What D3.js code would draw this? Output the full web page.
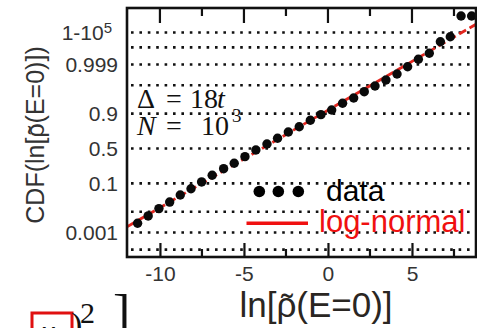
<!DOCTYPE html>
<html>
<head>
<meta charset="utf-8">
<script src="https://cdn.jsdelivr.net/npm/d3@7/dist/d3.min.js"></script>
<style>
  html, body { margin: 0; padding: 0; background: #fff; }
  svg { display: block; }
</style>
</head>
<body>
<svg id="chart" width="477" height="328"></svg>
<script>
// ln of the typical local density of states at the band centre
const lnRho = [-11.33, -10.70, -10.06, -9.42, -8.79, -8.15, -7.52, -6.89, -6.21, -5.58,
               -4.94, -4.29, -3.63, -3.00, -2.36, -1.71, -1.05, -0.42, 0.22, 0.87,
               1.53, 2.16, 2.80, 3.45, 4.11, 4.74, 5.38, 6.03, 6.69, 7.28, 7.92, 8.55];
// empirical cumulative distribution at each point
const cdf = [0.00298, 0.00657, 0.01355, 0.02442, 0.04363, 0.06944, 0.10935, 0.1623, 0.2287, 0.2932,
             0.3817, 0.4781, 0.5655, 0.6462, 0.7281, 0.7881, 0.8501, 0.8931, 0.9215, 0.9517,
             0.9683, 0.9816, 0.98922, 0.99410, 0.99692, 0.99868, 0.99948, 0.999767, 0.9999568, 0.9999802,
             0.99999944, 0.99999944];
// log-normal fit parameters (mean and width of ln rho)
const fitMu = -3.93;
const fitSigma = 2.79;

// probability gridlines and the ones that carry labels
const gridProbs = [1 - 1e-5, 0.9999, 0.999, 0.99, 0.9, 0.5, 0.1, 0.01, 0.001, 0.0001];
const labelProbs = [1 - 1e-5, 0.999, 0.9, 0.5, 0.1, 0.001];
const xMajorTicks = [-10, -5, 0, 5];
const xMinorTicks = [-7.5, -2.5, 2.5, 7.5];

// inverse of the standard normal CDF (Acklam's rational approximation)
function probit(p) {
  const a = [-3.969683028665376e+01, 2.209460984245205e+02, -2.759285104469687e+02,
             1.383577518672690e+02, -3.066479806614716e+01, 2.506628277459239e+00];
  const b = [-5.447609879822406e+01, 1.615858368580409e+02, -1.556989798598866e+02,
             6.680131188771972e+01, -1.328068155288572e+01];
  const c = [-7.784894002430293e-03, -3.223964580411365e-01, -2.400758277161838e+00,
             -2.549732539343734e+00, 4.374664141464968e+00, 2.938163982698783e+00];
  const d = [7.784695709041462e-03, 3.224671290700398e-01, 2.445134137142996e+00,
             3.754408661907416e+00];
  const plow = 0.02425;
  let q, r;
  if (p < plow) {
    q = Math.sqrt(-2 * Math.log(p));
    return (((((c[0]*q+c[1])*q+c[2])*q+c[3])*q+c[4])*q+c[5]) /
           ((((d[0]*q+d[1])*q+d[2])*q+d[3])*q+1);
  } else if (p <= 1 - plow) {
    q = p - 0.5; r = q * q;
    return (((((a[0]*r+a[1])*r+a[2])*r+a[3])*r+a[4])*r+a[5])*q /
           (((((b[0]*r+b[1])*r+b[2])*r+b[3])*r+b[4])*r+1);
  } else {
    q = Math.sqrt(-2 * Math.log(1 - p));
    return -(((((c[0]*q+c[1])*q+c[2])*q+c[3])*q+c[4])*q+c[5]) /
            ((((d[0]*q+d[1])*q+d[2])*q+d[3])*q+1);
  }
}

const svg = d3.select("#chart");
const plotL = 127, plotR = 476, plotT = 8, plotB = 257;

const x = d3.scaleLinear().domain([-11.96, 8.81]).range([plotL, plotR]);
// normal-probability axis: linear in the probit of the CDF
const z = d3.scaleLinear().domain([-3.99, 5.165]).range([plotB, plotT]);
const y = p => z(probit(p));

const sans = "'Liberation Sans', Arial, Helvetica, sans-serif";
const serif = "'Liberation Serif', 'Times New Roman', serif";

svg.append("defs").append("clipPath").attr("id", "plotClip")
  .append("rect").attr("x", plotL).attr("y", plotT)
  .attr("width", plotR - plotL).attr("height", plotB - plotT);

// dotted probability gridlines
svg.append("g").selectAll("line").data(gridProbs).join("line")
  .attr("x1", plotL + 4).attr("x2", plotR)
  .attr("y1", d => y(d)).attr("y2", d => y(d))
  .attr("stroke", "#111").attr("stroke-width", 2.6)
  .attr("stroke-dasharray", "2.6,5.8");

// log-normal fit (straight on probit axes)
const fitLine = d3.line()
  .x(d => x(d))
  .y(d => z((d - fitMu) / fitSigma));
svg.append("path")
  .datum(x.domain())
  .attr("clip-path", "url(#plotClip)")
  .attr("d", fitLine)
  .attr("fill", "none")
  .attr("stroke", "#e3261f").attr("stroke-width", 2.8)
  .attr("stroke-dasharray", "8,4");

// data points
svg.append("g").attr("clip-path", "url(#plotClip)")
  .selectAll("circle").data(d3.range(lnRho.length)).join("circle")
  .attr("cx", i => x(lnRho[i]))
  .attr("cy", i => y(cdf[i]))
  .attr("r", 4.7)
  .attr("fill", "#0a0a0a");

// bottom axis with labels
const xAxis = d3.axisBottom(x).tickValues(xMajorTicks).tickSize(-14).tickPadding(9)
  .tickFormat(d => String(d));
const gx = svg.append("g").attr("transform", `translate(0,${plotB})`).call(xAxis);
gx.select(".domain").remove();
gx.selectAll("line").attr("stroke", "#111").attr("stroke-width", 2.2);
gx.selectAll("text").attr("font-family", sans).attr("font-size", 21).attr("fill", "#333");

// minor ticks on bottom, all ticks on top
svg.append("g").selectAll("line").data(xMinorTicks).join("line")
  .attr("x1", d => x(d)).attr("x2", d => x(d))
  .attr("y1", plotB).attr("y2", plotB - 8)
  .attr("stroke", "#111").attr("stroke-width", 2.2);
svg.append("g").selectAll("line").data(xMajorTicks.concat(xMinorTicks)).join("line")
  .attr("x1", d => x(d)).attr("x2", d => x(d))
  .attr("y1", plotT).attr("y2", d => plotT + (xMajorTicks.includes(d) ? 15 : 8))
  .attr("stroke", "#111").attr("stroke-width", 2.2);

// left axis labels
const yAxis = d3.axisLeft(z).tickValues(labelProbs.map(probit)).tickSize(0).tickPadding(9)
  .tickFormat((d, i) => String(labelProbs[i]));
const gy = svg.append("g").attr("transform", `translate(${plotL},0)`).call(yAxis);
gy.select(".domain").remove();
gy.selectAll("text").attr("font-family", sans).attr("font-size", 21).attr("fill", "#333");
gy.selectAll("text").filter((d, i) => i === 0).each(function () {
  const t = d3.select(this).text("").attr("dx", -6);
  t.append("tspan").text("1-10");
  t.append("tspan").attr("dy", "-0.45em").attr("font-size", 15).text("5");
});

// frame
svg.append("rect")
  .attr("x", plotL).attr("y", plotT)
  .attr("width", plotR - plotL).attr("height", plotB - plotT)
  .attr("fill", "none").attr("stroke", "#111").attr("stroke-width", 2.6);

// "ln[rho(E=0)]" with a tilde set over the rho
function tildeLabel(g, size, color, leading) {
  const t = g.append("text")
    .attr("text-anchor", "middle")
    .attr("font-family", sans).attr("font-size", size).attr("fill", color);
  t.append("tspan").text(leading + "ln[");
  t.append("tspan").text("\u03C1");
  t.append("tspan").text("(E=0)]" + (leading ? ")" : ""));
  const idx = leading.length + 3;
  const box = t.node().getExtentOfChar(idx);
  g.append("text")
    .attr("x", box.x + box.width / 2 + size * 0.02)
    .attr("y", size * 0.06)
    .attr("text-anchor", "middle")
    .attr("font-family", sans).attr("font-size", size).attr("fill", color)
    .text("\u02DC");
}
tildeLabel(svg.append("g").attr("transform", "translate(44,135) rotate(-90)"), 25, "#333", "CDF(");
tildeLabel(svg.append("g").attr("transform", "translate(316,317)"), 35, "#2a2622", "");

// parameter annotation
const ann = svg.append("g").attr("font-family", serif).attr("font-size", 28).attr("fill", "#111");
ann.append("text").attr("x", 137).attr("y", 108).text("\u0394");
ann.append("text").attr("x", 166).attr("y", 108).text("=");
ann.append("text").attr("x", 190).attr("y", 108).text("18");
ann.append("text").attr("x", 217).attr("y", 108).attr("font-style", "italic").text("t");
ann.append("text").attr("x", 137).attr("y", 135).attr("font-style", "italic").text("N");
ann.append("text").attr("x", 166).attr("y", 135).text("=");
ann.append("text").attr("x", 201).attr("y", 135).text("10");
ann.append("text").attr("x", 232).attr("y", 122).attr("font-size", 19).text("3");

// legend
svg.append("g").selectAll("circle").data([259.3, 278.3, 298.3]).join("circle")
  .attr("cx", d => d).attr("cy", 191.5).attr("r", 5.8).attr("fill", "#000");
svg.append("text").attr("x", 326).attr("y", 200.5)
  .attr("font-family", sans).attr("font-size", 30).attr("fill", "#000").text("data");
svg.append("line").attr("x1", 246.5).attr("x2", 308).attr("y1", 223.3).attr("y2", 223.3)
  .attr("stroke", "#f01010").attr("stroke-width", 3.5);
svg.append("text").attr("x", 319).attr("y", 231.5)
  .attr("font-family", sans).attr("font-size", 31).attr("fill", "#f01010").text("log-normal");

// fragment of the neighbouring equation along the bottom edge
const eq = svg.append("g").attr("font-family", serif).attr("fill", "#111");
eq.append("rect").attr("x", 32).attr("y", 313).attr("width", 40).attr("height", 30)
  .attr("fill", "none").attr("stroke", "#e01010").attr("stroke-width", 3);
eq.append("text").attr("x", 39).attr("y", 343).attr("font-size", 34).attr("font-style", "italic").text("\u03BC");
eq.append("text").attr("x", 71).attr("y", 336).attr("font-size", 34).text(")");
eq.append("text").attr("x", 80).attr("y", 323).attr("font-size", 30).text("2");
eq.append("text").attr("x", 113).attr("y", 331).attr("font-size", 52).text("]");
</script>
</body>
</html>
